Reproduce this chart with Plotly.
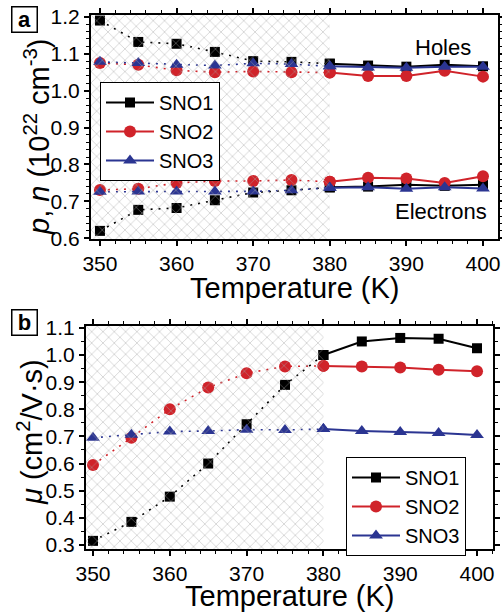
import plotly.graph_objects as go

# ---------------- data ----------------
temperature = [350, 355, 360, 365, 370, 375, 380, 385, 390, 395, 400]
transition_T = 380
series_names = ["SNO1", "SNO2", "SNO3"]

holes_sno1 = [1.190, 1.132, 1.127, 1.105, 1.080, 1.078, 1.073, 1.068, 1.065, 1.070, 1.066]
holes_sno2 = [1.075, 1.070, 1.055, 1.050, 1.052, 1.050, 1.049, 1.040, 1.040, 1.054, 1.038]
holes_sno3 = [1.078, 1.075, 1.070, 1.068, 1.074, 1.072, 1.066, 1.063, 1.062, 1.065, 1.065]

elec_sno1 = [0.620, 0.677, 0.682, 0.703, 0.724, 0.730, 0.738, 0.740, 0.745, 0.742, 0.745]
elec_sno2 = [0.731, 0.734, 0.750, 0.755, 0.755, 0.758, 0.753, 0.764, 0.762, 0.750, 0.768]
elec_sno3 = [0.726, 0.727, 0.727, 0.727, 0.727, 0.730, 0.737, 0.738, 0.734, 0.738, 0.735]

mu_sno1 = [0.315, 0.385, 0.478, 0.600, 0.745, 0.890, 1.000, 1.050, 1.063, 1.060, 1.025]
mu_sno2 = [0.595, 0.695, 0.800, 0.880, 0.933, 0.958, 0.960, 0.958, 0.954, 0.946, 0.940]
mu_sno3 = [0.695, 0.706, 0.718, 0.720, 0.725, 0.724, 0.727, 0.720, 0.716, 0.713, 0.705]

x_tick_vals = [350, 360, 370, 380, 390, 400]
ya_ticks = [0.6, 0.7, 0.8, 0.9, 1.0, 1.1, 1.2]
yb_ticks = [0.3, 0.4, 0.5, 0.6, 0.7, 0.8, 0.9, 1.0, 1.1]

# ---------------- style ----------------
colors = ["#000000", "#d0232a", "#2b3592"]
symbols = ["square", "circle", "triangle-up"]
msizes = [10, 12, 12]
FONT = "Liberation Sans, Arial, Helvetica, sans-serif"

W, H = 502, 614
xa_range = [348.83, 401.96]
xb_range = [349.09, 402.08]
ya_range = [0.598, 1.205]
yb_range = [0.285, 1.107]

fig = go.Figure()

split = temperature.index(transition_T)


def add_series(vals, idx, xaxis, yaxis, legend, show):
    c = colors[idx]
    # dotted part (hatched region)
    fig.add_trace(go.Scatter(
        x=temperature[:split + 1], y=vals[:split + 1], mode="lines+markers",
        line=dict(color=c, width=1.6, dash="2px,6px"),
        marker=dict(symbol=symbols[idx], size=msizes[idx], color=c),
        xaxis=xaxis, yaxis=yaxis, showlegend=False, hoverinfo="skip"))
    # solid part
    fig.add_trace(go.Scatter(
        x=temperature[split:], y=vals[split:], mode="lines+markers",
        line=dict(color=c, width=2),
        marker=dict(symbol=symbols[idx], size=msizes[idx], color=c),
        xaxis=xaxis, yaxis=yaxis, name=series_names[idx],
        showlegend=show, legend=legend))


for i, v in enumerate([holes_sno1, holes_sno2, holes_sno3]):
    add_series(v, i, "x", "y", "legend", True)
for i, v in enumerate([elec_sno1, elec_sno2, elec_sno3]):
    add_series(v, i, "x", "y", "legend", False)
for i, v in enumerate([mu_sno1, mu_sno2, mu_sno3]):
    add_series(v, i, "x2", "y2", "legend2", True)

# hatched regions, on overlaying y axes so they are drawn above the data
for xr, yr, xa, ya in [(xa_range, ya_range, "x", "y3"), (xb_range, yb_range, "x2", "y4")]:
    fig.add_trace(go.Scatter(
        x=[xr[0], transition_T, transition_T, xr[0], xr[0]],
        y=[yr[0], yr[0], yr[1], yr[1], yr[0]],
        mode="lines", fill="toself", fillcolor="rgba(0,0,0,0)",
        fillpattern=dict(shape="x", fgcolor="#a6a6a6", size=8, solidity=0.2),
        line=dict(width=0), xaxis=xa, yaxis=ya, showlegend=False, hoverinfo="skip"))

axis_common = dict(
    showline=True, linecolor="black", linewidth=2, mirror="ticks",
    ticks="outside", ticklen=5, tickwidth=1.5, tickcolor="black",
    showgrid=False, zeroline=False,
    tickfont=dict(family=FONT, size=21, color="black"),
)
minor_x = dict(dtick=2, ticks="outside", ticklen=3, tickcolor="black", tickwidth=1)

fig.update_layout(
    width=W, height=H, margin=dict(l=0, r=0, t=0, b=0, autoexpand=False),
    paper_bgcolor="white", plot_bgcolor="white",
    font=dict(family=FONT, color="black"),
    xaxis=dict(domain=[91 / W, 498 / W], range=xa_range, anchor="y",
               tickvals=x_tick_vals, minor=minor_x, **axis_common),
    yaxis=dict(domain=[1 - 239 / H, 1 - 15 / H], range=ya_range, anchor="x",
               tickvals=ya_ticks, ticktext=[f"{t:.1f}" for t in ya_ticks],
               minor=dict(dtick=0.02, ticks="outside", ticklen=3, tickcolor="black", tickwidth=1),
               **axis_common),
    xaxis2=dict(domain=[86 / W, 493 / W], range=xb_range, anchor="y2",
                tickvals=x_tick_vals, minor=minor_x, **axis_common),
    yaxis2=dict(domain=[1 - 549 / H, 1 - 326 / H], range=yb_range, anchor="x2",
                tickvals=yb_ticks, ticktext=[f"{t:.1f}" for t in yb_ticks],
                minor=dict(dtick=0.05, ticks="outside", ticklen=3, tickcolor="black", tickwidth=1),
                **axis_common),
    yaxis3=dict(overlaying="y", anchor="x", range=ya_range, visible=False,
                showgrid=False, zeroline=False),
    yaxis4=dict(overlaying="y2", anchor="x2", range=yb_range, visible=False,
                showgrid=False, zeroline=False),
    legend=dict(x=100 / W, y=1 - 82 / H, xanchor="left", yanchor="top",
                bgcolor="white", bordercolor="black", borderwidth=1,
                font=dict(family=FONT, size=20, color="black"),
                itemwidth=48, tracegroupgap=0),
    legend2=dict(x=346 / W, y=1 - 457 / H, xanchor="left", yanchor="top",
                 bgcolor="white", bordercolor="black", borderwidth=1,
                 font=dict(family=FONT, size=20, color="black"),
                 itemwidth=48, tracegroupgap=0),
)

ann = []
# x-axis titles
ann.append(dict(text="Temperature (K)", x=295 / W, y=1 - 288 / H, xref="paper", yref="paper",
                showarrow=False, xanchor="center", yanchor="middle",
                font=dict(family=FONT, size=29)))
ann.append(dict(text="Temperature (K)", x=290 / W, y=1 - 596 / H, xref="paper", yref="paper",
                showarrow=False, xanchor="center", yanchor="middle",
                font=dict(family=FONT, size=29)))
# y-axis titles
ann.append(dict(text="<i>p</i>, <i>n</i> (10<sup>22</sup> cm<sup>-3</sup>)",
                x=37 / W, y=1 - 137 / H, xref="paper", yref="paper", textangle=-90,
                showarrow=False, xanchor="center", yanchor="middle",
                font=dict(family=FONT, size=29)))
ann.append(dict(text="<i>μ</i> (cm<sup>2</sup>/V·s)",
                x=30 / W, y=1 - 432 / H, xref="paper", yref="paper", textangle=-90,
                showarrow=False, xanchor="center", yanchor="middle",
                font=dict(family=FONT, size=29)))
# Holes / Electrons
ann.append(dict(text="Holes", x=443 / W, y=1 - 47 / H, xref="paper", yref="paper",
                showarrow=False, xanchor="center", yanchor="middle",
                font=dict(family=FONT, size=22)))
ann.append(dict(text="Electrons", x=489 / W, y=1 - 212 / H, xref="paper", yref="paper",
                showarrow=False, xanchor="right", yanchor="middle",
                font=dict(family=FONT, size=22)))
# panel labels
ann.append(dict(text="<b>a</b>", x=24 / W, y=1 - 19 / H, xref="paper", yref="paper",
                showarrow=False, xanchor="center", yanchor="middle",
                width=22, height=22, bordercolor="black", borderwidth=1.5, borderpad=1,
                bgcolor="white", font=dict(family=FONT, size=22)))
ann.append(dict(text="<b>b</b>", x=24 / W, y=1 - 322 / H, xref="paper", yref="paper",
                showarrow=False, xanchor="center", yanchor="middle",
                width=22, height=22, bordercolor="black", borderwidth=1.5, borderpad=1,
                bgcolor="white", font=dict(family=FONT, size=22)))
fig.update_layout(annotations=ann)

fig.write_html("out.html", config={"displayModeBar": False},
               post_script="document.body.style.margin='0';")
